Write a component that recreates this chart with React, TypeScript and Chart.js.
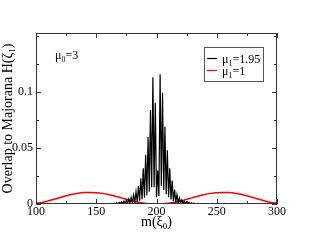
import React, { useEffect, useRef } from "react";
import { Chart, registerables } from "chart.js";

Chart.register(...registerables);

// ---- data ----
const blackStartM = 150;
const blackValues = [
  0, 0.0001, 0, 0.0001, 0, 0.0002, 0, 0.0002, 0, 0.0003,
  0, 0.0004, 0.0001, 0.0006, 0.0001, 0.0008, 0.0001, 0.0011, 0.0002, 0.0015,
  0.0003, 0.002, 0.0003, 0.0026, 0.0004, 0.0034, 0.0006, 0.0045, 0.0008, 0.006,
  0.001, 0.008, 0.0014, 0.011, 0.002, 0.016, 0.003, 0.023, 0.004, 0.032,
  0.0057, 0.044, 0.0078, 0.06, 0.011, 0.084, 0.015, 0.1135, 0.015, 0.0905,
  0.006, 0.03, 0.007, 0.116, 0.016, 0.0995, 0.0125, 0.069, 0.0087, 0.048,
  0.006, 0.032, 0.004, 0.021, 0.0025, 0.013, 0.0016, 0.0085, 0.001, 0.0055,
  0.0007, 0.0038, 0.0005, 0.0027, 0.0003, 0.002, 0.0002, 0.0015, 0.0001, 0.0011,
  0, 0.0008, 0, 0.0006, 0, 0.0004, 0, 0.0003, 0, 0.0002,
  0, 0.0001, 0, 0.0001, 0, 0.0001, 0, 0, 0, 0, 0,
];

const redM = [
  100, 105, 110, 115, 120, 125, 130, 135, 140, 145, 150, 155, 160, 165, 170,
  175, 180, 185, 190, 195, 200, 205, 210, 215, 220, 225, 230, 235, 240, 245,
  250, 255, 260, 265, 270, 275, 280, 285, 290, 295, 300,
];
const redValues = [
  0.0006, 0.0014, 0.0027, 0.0042, 0.0058, 0.0073, 0.0087, 0.0097, 0.0102,
  0.0103, 0.0101, 0.0095, 0.0085, 0.0072, 0.0057, 0.0042, 0.0027, 0.0015,
  0.0006, 0.0001, 0.0, 0.0001, 0.0006, 0.0015, 0.0027, 0.0042, 0.0057,
  0.0072, 0.0085, 0.0095, 0.0101, 0.0103, 0.0102, 0.0097, 0.0087, 0.0073,
  0.0058, 0.0042, 0.0027, 0.0014, 0.0006,
];

const seriesNames = ["μ_1=1.95", "μ_1=1"];
const seriesColors = ["#000000", "#ff0000"];

const xTicks = [100, 125, 150, 175, 200, 225, 250, 275, 300];
const xLabelled = [100, 150, 200, 250, 300];
const yTicks = [0, 0.025, 0.05, 0.075, 0.1, 0.125, 0.15];
const yLabelled = [0, 0.05, 0.1];

const xTitle = "m(ξ_0)";
const yTitle = "Overlap to Majorana H(ζ_1)";
const annotation = "μ_0=3";

const FONT = "'Liberation Serif', 'Times New Roman', serif";

type Part = { t: string; sub: boolean };
function parse(s: string): Part[] {
  const parts: Part[] = [];
  let buf = "";
  for (let i = 0; i < s.length; i++) {
    if (s[i] === "_" && i + 1 < s.length) {
      if (buf) parts.push({ t: buf, sub: false });
      buf = "";
      parts.push({ t: s[i + 1], sub: true });
      i++;
    } else buf += s[i];
  }
  if (buf) parts.push({ t: buf, sub: false });
  return parts;
}

function drawRich(
  ctx: CanvasRenderingContext2D,
  s: string,
  x: number,
  y: number,
  size: number,
  align: "left" | "center"
) {
  const parts = parse(s);
  const subSize = Math.round(size * 0.65);
  let w = 0;
  for (const p of parts) {
    ctx.font = `${p.sub ? subSize : size}px ${FONT}`;
    w += ctx.measureText(p.t).width;
  }
  let cx = align === "center" ? x - w / 2 : x;
  ctx.textBaseline = "alphabetic";
  ctx.textAlign = "left";
  for (const p of parts) {
    ctx.font = `${p.sub ? subSize : size}px ${FONT}`;
    ctx.fillText(p.t, cx, p.sub ? y + size * 0.22 : y);
    cx += ctx.measureText(p.t).width;
  }
}

const decorPlugin = {
  id: "decor",
  afterDraw(chart: any) {
    const ctx: CanvasRenderingContext2D = chart.ctx;
    const a = chart.chartArea;
    const xs = chart.scales.x;
    const ys = chart.scales.y;
    ctx.save();
    // frame
    ctx.strokeStyle = "#333";
    ctx.lineWidth = 1;
    ctx.strokeRect(
      Math.round(a.left) + 0.5,
      Math.round(a.top) + 0.5,
      Math.round(a.right - a.left) - 1,
      Math.round(a.bottom - a.top) - 1
    );
    // inside ticks
    ctx.beginPath();
    for (const v of xTicks) {
      const px = Math.round(xs.getPixelForValue(v)) + 0.5;
      const len = xLabelled.includes(v) ? 5 : 3;
      ctx.moveTo(px, a.bottom);
      ctx.lineTo(px, a.bottom - len);
      ctx.moveTo(px, a.top);
      ctx.lineTo(px, a.top + len);
    }
    for (const v of yTicks) {
      const py = Math.round(ys.getPixelForValue(v)) + 0.5;
      const len = yLabelled.includes(v) ? 5 : 3;
      ctx.moveTo(a.left, py);
      ctx.lineTo(a.left + len, py);
      ctx.moveTo(a.right, py);
      ctx.lineTo(a.right - len, py);
    }
    ctx.stroke();

    ctx.fillStyle = "#000";
    // annotation
    drawRich(ctx, annotation, 55, 59, 12, "left");
    // x title
    drawRich(ctx, xTitle, (a.left + a.right) / 2, 226, 14, "center");
    // y title
    ctx.save();
    ctx.translate(12, (a.top + a.bottom) / 2);
    ctx.rotate(-Math.PI / 2);
    drawRich(ctx, yTitle, 0, 0, 14, "center");
    ctx.restore();

    // legend
    const lx = 204, ly = 47, lw = 59, lh = 34;
    ctx.fillStyle = "#fff";
    ctx.fillRect(lx, ly, lw, lh);
    ctx.strokeStyle = "#555";
    ctx.strokeRect(lx + 0.5, ly + 0.5, lw, lh);
    seriesNames.forEach((name, i) => {
      const ry = ly + 12 + i * 12;
      ctx.strokeStyle = seriesColors[i];
      ctx.lineWidth = 1.2;
      ctx.beginPath();
      ctx.moveTo(207, ry - 0.5);
      ctx.lineTo(217, ry - 0.5);
      ctx.stroke();
      ctx.fillStyle = "#000";
      drawRich(ctx, name, 222, ry + 4, 12, "left");
    });
    ctx.restore();
  },
};

export default function App() {
  const ref = useRef<HTMLCanvasElement | null>(null);
  useEffect(() => {
    if (!ref.current) return;
    const blackData = blackValues.map((v, i) => ({ x: blackStartM + i, y: v }));
    const redData = redM.map((m, i) => ({ x: m, y: redValues[i] }));
    const chart = new Chart(ref.current, {
      type: "line",
      data: {
        datasets: [
          {
            label: seriesNames[0],
            data: blackData,
            borderColor: seriesColors[0],
            borderWidth: 1.2,
            pointRadius: 0,
            tension: 0,
          },
          {
            label: seriesNames[1],
            data: redData,
            borderColor: seriesColors[1],
            borderWidth: 1.5,
            pointRadius: 0,
            cubicInterpolationMode: "monotone",
          },
        ],
      },
      options: {
        responsive: false,
        animation: false,
        devicePixelRatio: 1,
        layout: { padding: { top: 33, right: 35, left: 0, bottom: 0 } },
        plugins: { legend: { display: false }, tooltip: { enabled: false } },
        scales: {
          x: {
            type: "linear",
            min: 100,
            max: 300,
            afterBuildTicks: (s: any) => {
              s.ticks = xTicks.map((v) => ({ value: v }));
            },
            afterFit: (s: any) => {
              s.height = 37;
            },
            grid: { display: false, drawTicks: false },
            border: { display: false },
            ticks: {
              autoSkip: false,
              maxRotation: 0,
              padding: 1,
              color: "#000",
              font: { family: FONT, size: 12 },
              callback: (v: any) => (xLabelled.includes(Number(v)) ? String(v) : ""),
            },
          },
          y: {
            type: "linear",
            min: 0,
            max: 0.153,
            afterBuildTicks: (s: any) => {
              s.ticks = yTicks.map((v) => ({ value: v }));
            },
            afterFit: (s: any) => {
              s.width = 36;
            },
            grid: { display: false, drawTicks: false },
            border: { display: false },
            ticks: {
              autoSkip: false,
              padding: 3,
              color: "#000",
              font: { family: FONT, size: 12 },
              callback: (v: any) => (yLabelled.includes(Number(v)) ? String(Number(v)) : ""),
            },
          },
        },
      },
      plugins: [decorPlugin],
    });
    return () => chart.destroy();
  }, []);
  return (
    <div style={{ position: "absolute", left: 0, top: 0, width: 312, height: 241 }}>
      <canvas ref={ref} width={312} height={241} style={{ width: 312, height: 241 }} />
    </div>
  );
}
